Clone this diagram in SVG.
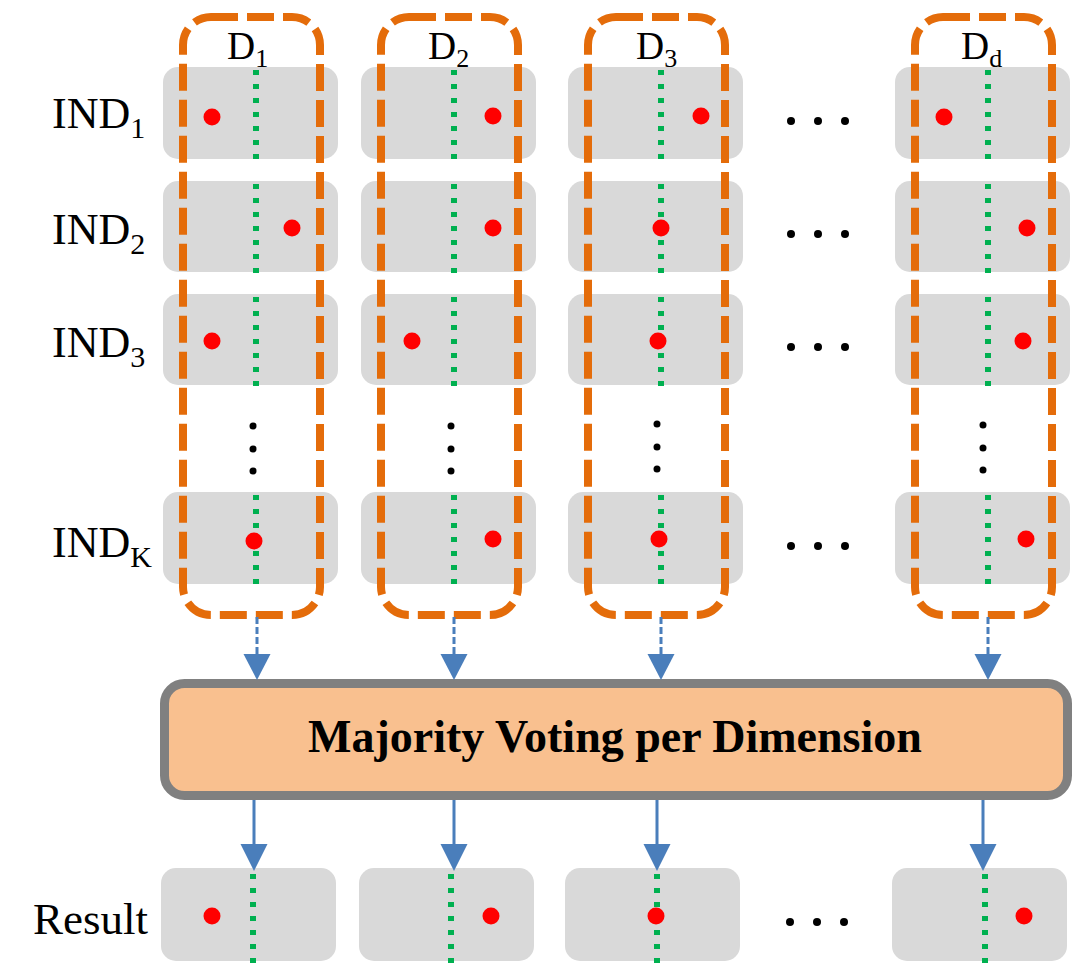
<svg xmlns="http://www.w3.org/2000/svg" width="1073" height="977" viewBox="0 0 1073 977">
<style>
.cell{fill:#D9D9D9}
.grn{stroke:#00B050;stroke-width:6;stroke-dasharray:5 9;fill:none}
.red{fill:#FF0000}
.dim{fill:none;stroke:#E46C0A;stroke-width:8;stroke-dasharray:27 9}
.lbl{font-family:"Liberation Serif","Times New Roman",serif;fill:#000}
.dot{fill:#000}
.dl{stroke:#4A7EBB;stroke-width:3;stroke-dasharray:7 3;fill:none}
.sl{stroke:#4A7EBB;stroke-width:3;fill:none}
.ah{fill:#4A7EBB}
</style>
<rect width="1073" height="977" fill="#fff"/>
<g id="row-labels" class="lbl" font-size="44">
<text x="52" y="128">IND<tspan font-size="30" dy="10">1</tspan></text>
<text x="52" y="244">IND<tspan font-size="30" dy="10">2</tspan></text>
<text x="52" y="357">IND<tspan font-size="30" dy="10">3</tspan></text>
<text x="52" y="557">IND<tspan font-size="30" dy="10">K</tspan></text>
<text x="33" y="934" font-size="45">Result</text>
</g>
<g id="col-D1">
<rect class="cell" x="163" y="67" width="175" height="92" rx="15"/>
<rect class="cell" x="163" y="181" width="175" height="91" rx="15"/>
<rect class="cell" x="163" y="294" width="175" height="91" rx="15"/>
<rect class="cell" x="163" y="492" width="175" height="92" rx="15"/>
<path class="grn" d="M256 70V160M256 184V273M256 297V386M256 495V585"/>
<circle class="red" cx="212" cy="117" r="8.5"/>
<circle class="red" cx="292" cy="228" r="8.5"/>
<circle class="red" cx="212" cy="341" r="8.5"/>
<circle class="red" cx="254" cy="541" r="8.5"/>
<circle class="dot" cx="253" cy="426" r="3.5"/><circle class="dot" cx="253" cy="449" r="3.5"/><circle class="dot" cx="253" cy="471" r="3.5"/>
<rect class="dim" x="183" y="17" width="137" height="598" rx="28"/>
<text class="lbl" x="227" y="59" font-size="39">D<tspan font-size="26" dy="8">1</tspan></text>
</g>
<g id="col-D2">
<rect class="cell" x="361" y="67" width="175" height="92" rx="15"/>
<rect class="cell" x="361" y="181" width="175" height="91" rx="15"/>
<rect class="cell" x="361" y="294" width="175" height="91" rx="15"/>
<rect class="cell" x="361" y="492" width="175" height="92" rx="15"/>
<path class="grn" d="M454 70V160M454 184V273M454 297V386M454 495V585"/>
<circle class="red" cx="493" cy="116" r="8.5"/>
<circle class="red" cx="493" cy="228" r="8.5"/>
<circle class="red" cx="412" cy="341" r="8.5"/>
<circle class="red" cx="493" cy="539" r="8.5"/>
<circle class="dot" cx="451" cy="426" r="3.5"/><circle class="dot" cx="451" cy="449" r="3.5"/><circle class="dot" cx="451" cy="471" r="3.5"/>
<rect class="dim" x="381" y="17" width="137" height="598" rx="28"/>
<text class="lbl" x="428" y="59" font-size="39">D<tspan font-size="26" dy="8">2</tspan></text>
</g>
<g id="col-D3">
<rect class="cell" x="568" y="67" width="175" height="92" rx="15"/>
<rect class="cell" x="568" y="181" width="175" height="91" rx="15"/>
<rect class="cell" x="568" y="294" width="175" height="91" rx="15"/>
<rect class="cell" x="568" y="492" width="175" height="92" rx="15"/>
<path class="grn" d="M661 70V160M661 184V273M661 297V386M661 495V585"/>
<circle class="red" cx="701" cy="116" r="8.5"/>
<circle class="red" cx="661" cy="228" r="8.5"/>
<circle class="red" cx="658" cy="341" r="8.5"/>
<circle class="red" cx="659" cy="539" r="8.5"/>
<circle class="dot" cx="657" cy="424" r="3.5"/><circle class="dot" cx="657" cy="447" r="3.5"/><circle class="dot" cx="657" cy="469" r="3.5"/>
<rect class="dim" x="588" y="17" width="137" height="598" rx="28"/>
<text class="lbl" x="636" y="59" font-size="39">D<tspan font-size="26" dy="8">3</tspan></text>
</g>
<g id="col-Dd">
<rect class="cell" x="895" y="67" width="175" height="92" rx="15"/>
<rect class="cell" x="895" y="181" width="175" height="91" rx="15"/>
<rect class="cell" x="895" y="294" width="175" height="91" rx="15"/>
<rect class="cell" x="895" y="492" width="175" height="92" rx="15"/>
<path class="grn" d="M988 70V160M988 184V273M988 297V386M988 495V585"/>
<circle class="red" cx="944" cy="117" r="8.5"/>
<circle class="red" cx="1027" cy="228" r="8.5"/>
<circle class="red" cx="1023" cy="341" r="8.5"/>
<circle class="red" cx="1026" cy="539" r="8.5"/>
<circle class="dot" cx="983" cy="425" r="3.5"/><circle class="dot" cx="983" cy="448" r="3.5"/><circle class="dot" cx="983" cy="470" r="3.5"/>
<rect class="dim" x="915" y="17" width="137" height="598" rx="28"/>
<text class="lbl" x="961" y="59" font-size="39">D<tspan font-size="26" dy="8">d</tspan></text>
</g>
<g id="ellipses">
<circle class="dot" cx="791" cy="121" r="4"/><circle class="dot" cx="818" cy="121" r="4"/><circle class="dot" cx="845" cy="121" r="4"/>
<circle class="dot" cx="791" cy="234" r="4"/><circle class="dot" cx="818" cy="234" r="4"/><circle class="dot" cx="845" cy="234" r="4"/>
<circle class="dot" cx="791" cy="347" r="4"/><circle class="dot" cx="818" cy="347" r="4"/><circle class="dot" cx="845" cy="347" r="4"/>
<circle class="dot" cx="791" cy="546" r="4"/><circle class="dot" cx="818" cy="546" r="4"/><circle class="dot" cx="845" cy="546" r="4"/>
<circle class="dot" cx="790" cy="922" r="4"/><circle class="dot" cx="817" cy="922" r="4"/><circle class="dot" cx="844" cy="922" r="4"/>
</g>
<g id="majority-voting">
<rect x="164.5" y="683.5" width="903" height="112" rx="20" fill="#F9C08F" stroke="#808080" stroke-width="9"/>
<text class="lbl" x="615" y="752" font-size="46" font-weight="bold" text-anchor="middle">Majority Voting per Dimension</text>
</g>
<g id="result">
<rect class="cell" x="161" y="868" width="175" height="93" rx="15"/>
<rect class="cell" x="359" y="868" width="175" height="93" rx="15"/>
<rect class="cell" x="565" y="868" width="175" height="93" rx="15"/>
<rect class="cell" x="892" y="868" width="175" height="93" rx="15"/>
<path class="grn" d="M253 874V964M451 874V964M657 874V964M985 874V964"/>
<circle class="red" cx="212" cy="916" r="8.5"/>
<circle class="red" cx="491" cy="916" r="8.5"/>
<circle class="red" cx="656" cy="916" r="8.5"/>
<circle class="red" cx="1024" cy="916" r="8.5"/>
</g>
<g id="connectors">
<path class="dl" d="M257 617V656M454 617V656M661 617V656M988 617V656"/>
<polygon class="ah" points="243.5,654 270.5,654 257,680"/>
<polygon class="ah" points="440.5,654 467.5,654 454,680"/>
<polygon class="ah" points="647.5,654 674.5,654 661,680"/>
<polygon class="ah" points="974.5,654 1001.5,654 988,680"/>
<path class="sl" d="M254 800V846M454 800V846M657 800V846M983 800V846"/>
<polygon class="ah" points="240.5,844 267.5,844 254,871"/>
<polygon class="ah" points="440.5,844 467.5,844 454,871"/>
<polygon class="ah" points="643.5,844 670.5,844 657,871"/>
<polygon class="ah" points="969.5,844 996.5,844 983,871"/>
</g>
</svg>
